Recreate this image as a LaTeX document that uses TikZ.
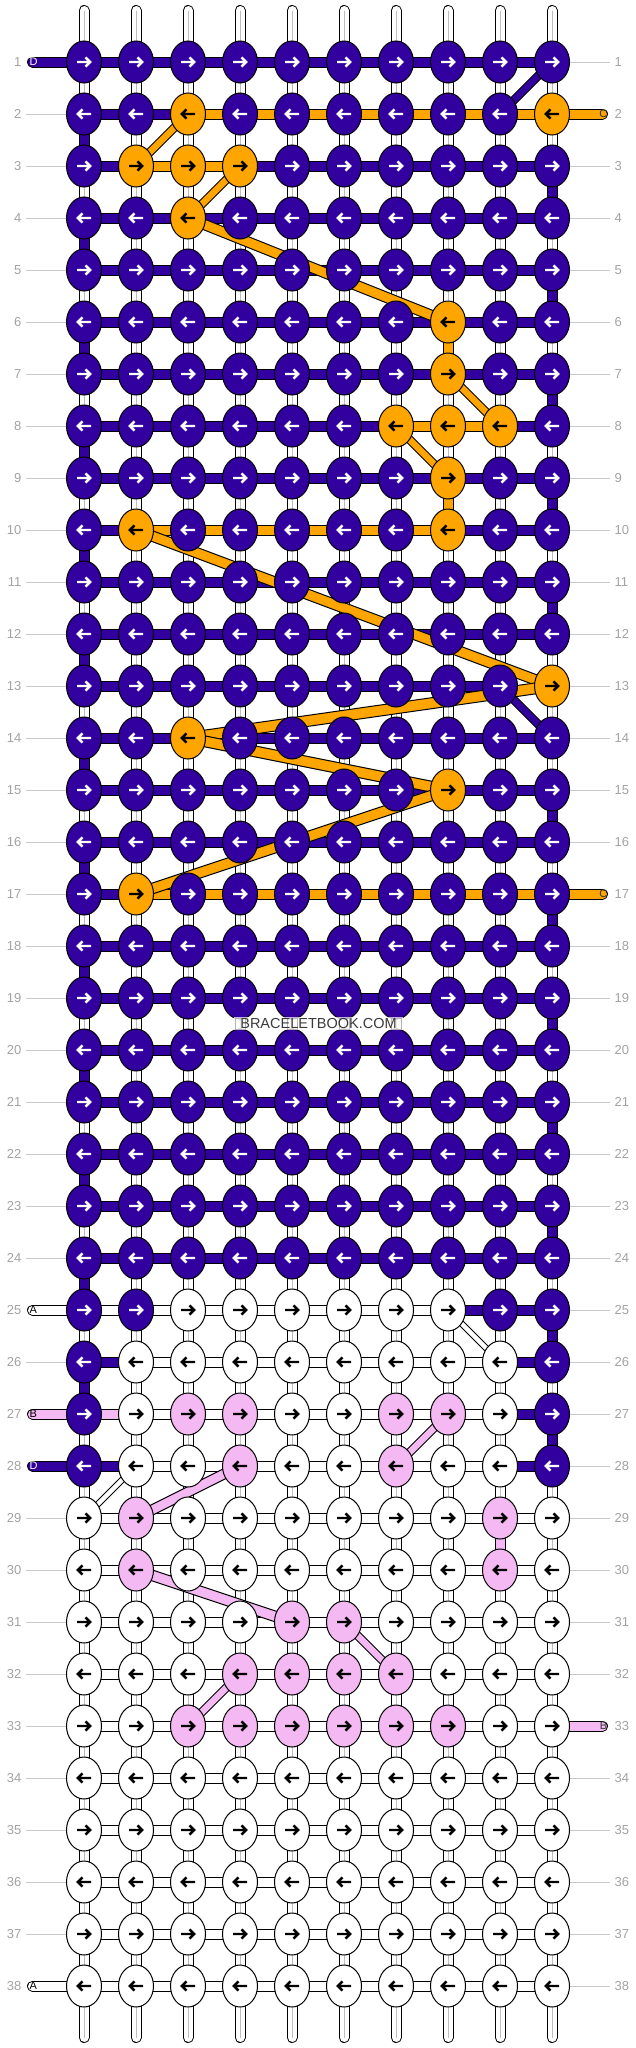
\documentclass[tikz,border=0pt]{standalone}
\usepackage{fontspec}
\setmainfont{Liberation Sans}
\usetikzlibrary{shapes.geometric}
\definecolor{PU}{HTML}{3300A0}
\definecolor{OR}{HTML}{FFA500}
\definecolor{PK}{HTML}{F4B9F2}
\definecolor{WH}{HTML}{FFFFFF}
\definecolor{labgray}{HTML}{A3A3A3}
\definecolor{linegray}{HTML}{C8C8C8}
\definecolor{thrgray}{HTML}{BEBEBE}
\definecolor{wmtext}{HTML}{3A3A3A}
\def\strPU{PU}
\def\strNO{NO}
% knot colour exceptions
\foreach \rr/\cc/\kc in {2/3/OR,2/10/OR,3/2/OR,3/3/OR,3/4/OR,4/3/OR,6/8/OR,7/8/OR,8/7/OR,8/8/OR,8/9/OR,9/8/OR,10/2/OR,10/8/OR,13/10/OR,14/3/OR,15/8/OR,17/2/OR,
 25/1/PU,25/2/PU,25/9/PU,25/10/PU,26/1/PU,26/10/PU,27/1/PU,27/10/PU,27/3/PK,27/4/PK,27/7/PK,27/8/PK,28/1/PU,28/10/PU,28/4/PK,28/7/PK,29/2/PK,29/9/PK,30/2/PK,30/9/PK,31/5/PK,31/6/PK,32/4/PK,32/5/PK,32/6/PK,32/7/PK,33/3/PK,33/4/PK,33/5/PK,33/6/PK,33/7/PK,33/8/PK}
 {\expandafter\xdef\csname kc-\rr-\cc\endcsname{\kc}}
% horizontal band exceptions (row/start column)
\foreach \rr/\cc/\kc in {2/3/OR,2/4/OR,2/5/OR,2/6/OR,2/7/OR,2/8/OR,2/9/OR,3/2/OR,3/3/OR,8/7/OR,8/8/OR,10/2/OR,10/3/OR,10/4/OR,10/5/OR,10/6/OR,10/7/OR,13/9/NO,
 17/2/OR,17/3/OR,17/4/OR,17/5/OR,17/6/OR,17/7/OR,17/8/OR,17/9/OR,25/8/PU,25/9/PU,26/1/PU,26/9/PU,27/1/PK,27/9/PU,28/1/PU,28/9/PU}
 {\expandafter\xdef\csname hb-\rr-\cc\endcsname{\kc}}
\begin{document}
\begin{tikzpicture}[x=1pt,y=-1pt,
 band/.style={draw=black, line width=1pt, double=#1, double distance=9pt},
 knot/.style={ellipse, draw=black, line width=1pt, minimum width=35pt, minimum height=42pt, inner sep=0pt},
 arr/.style={line width=2.4pt, line cap=butt, line join=miter},
 rowlab/.style={text=labgray, font=\fontsize{13}{13}\selectfont, inner sep=0pt},
 gl/.style={draw=linegray, line width=1pt},
 pilltxt/.style={font=\fontsize{11}{11}\selectfont, inner sep=0pt}]
\useasboundingbox (0,0) rectangle (636,2048);
\fill[white] (0,0) rectangle (636,2048);
% grid points
\foreach \rr in {1,...,38}{
  \foreach \cc in {1,...,10}{
    \coordinate (p-\rr-\cc) at ({84+52*(\cc-1)},{62+52*(\rr-1)});
  }
}
% base threads
\foreach \cc in {1,...,10}{
  \coordinate (top-\cc) at ({84+52*(\cc-1)},10.5);
  \coordinate (bot-\cc) at ({84+52*(\cc-1)},2037.5);
  \draw[band=white, line cap=round] (top-\cc) -- (bot-\cc);
  \draw[draw=thrgray, line width=1pt] (top-\cc) -- (bot-\cc);
}
% coloured vertical links
\foreach \rr in {2,4,...,26}{
  \pgfmathtruncatemacro\nr{\rr+1}
  \draw[band=PU] (p-\rr-1) -- (p-\nr-1);
}
\foreach \rr in {3,5,7,9,11,15,17,19,21,23,25,27}{
  \pgfmathtruncatemacro\nr{\rr+1}
  \draw[band=PU] (p-\rr-10) -- (p-\nr-10);
}
\foreach \cc/\rr/\vc in {8/6/OR,8/9/OR,9/29/PK}{
  \pgfmathtruncatemacro\nr{\rr+1}
  \draw[band=\vc] (p-\rr-\cc) -- (p-\nr-\cc);
}
% horizontal bands
\foreach \rr in {1,...,38}{
  \foreach \cc in {1,...,9}{
    \pgfmathtruncatemacro\cn{\cc+1}
    \ifcsname hb-\rr-\cc\endcsname
      \edef\bcol{\csname hb-\rr-\cc\endcsname}%
    \else
      \ifnum\rr<25 \def\bcol{PU}\else\def\bcol{WH}\fi
    \fi
    \ifx\bcol\strNO\else
      \draw[band=\bcol] (p-\rr-\cc) -- (p-\rr-\cn);
    \fi
  }
}
% diagonal links
\foreach \ra/\ca/\rb/\cb/\dc/\hw in {1/10/2/9/PU/5.5pt,13/9/14/10/PU/5.5pt,2/3/3/2/OR/5.5pt,3/4/4/3/OR/5.5pt,4/3/6/8/OR/5.5pt,7/8/8/9/OR/5.5pt,8/7/9/8/OR/5.5pt,10/2/13/10/OR/5.5pt,13/10/14/3/OR/5.5pt,14/3/15/8/OR/5.5pt,15/8/17/2/OR/5.5pt,
 25/8/26/9/WH/4pt,28/2/29/1/WH/4pt,27/8/28/7/PK/5.5pt,28/4/29/2/PK/5.5pt,30/2/31/5/PK/5.5pt,31/6/32/7/PK/5.5pt,32/4/33/3/PK/5.5pt}{
  \draw[line width=1pt, fill=\dc] ([yshift=\hw]p-\ra-\ca) -- ([yshift=\hw]p-\rb-\cb) -- ([yshift=-\hw]p-\rb-\cb) -- ([yshift=-\hw]p-\ra-\ca) -- cycle;
}
% strand ends
\foreach \rr/\pc/\lt/\tc in {1/PU/D/white,25/WH/A/black,27/PK/B/black,28/PU/D/white,38/WH/A/black}{
  \pgfmathsetmacro\yy{62+52*(\rr-1)}
  \coordinate (lend-\rr) at (32.5,\yy);
  \draw[band=\pc, line cap=round] (lend-\rr) -- (p-\rr-1);
  \node[pilltxt, text=\tc, anchor=west] (lt-\rr) at (29.5,\yy) {\lt};
}
\foreach \rr/\pc/\lt in {2/OR/C,17/OR/C,33/PK/B}{
  \pgfmathsetmacro\yy{62+52*(\rr-1)}
  \coordinate (rend-\rr) at (602.5,\yy);
  \draw[band=\pc, line cap=round] (p-\rr-10) -- (rend-\rr);
  \node[pilltxt, text=black!80, anchor=east] (rt-\rr) at (607.5,\yy) {\lt};
}
% knots
\foreach \rr in {1,...,38}{
  \foreach \cc in {1,...,10}{
    \ifcsname kc-\rr-\cc\endcsname
      \edef\kcol{\csname kc-\rr-\cc\endcsname}%
    \else
      \ifnum\rr<25 \def\kcol{PU}\else\def\kcol{WH}\fi
    \fi
    \ifx\kcol\strPU \def\acol{white}\else\def\acol{black}\fi
    \ifodd\rr \def\sg{1}\else\def\sg{-1}\fi
    \node[knot, fill=\kcol] (k-\rr-\cc) at (p-\rr-\cc) {};
    \draw[arr, draw=\acol] (k-\rr-\cc.center) ++({-7*(\sg)},0) -- ++({12.5*(\sg)},0)
      (k-\rr-\cc.center) ++({1.5*(\sg)},-4.6) -- ++({4.6*(\sg)},4.6) -- ++({-4.6*(\sg)},4.6);
  }
}
% row labels and guide lines
\foreach \rr in {1,...,38}{
  \pgfmathsetmacro\yy{62+52*(\rr-1)}
  \node[rowlab, anchor=east] (ln-\rr) at (21.5,\yy) {\rr};
  \node[rowlab, anchor=west] (rn-\rr) at (614.5,\yy) {\rr};
}
\foreach \rr in {2,3,...,24,26,29,30,...,37}{
  \pgfmathsetmacro\yy{62+52*(\rr-1)}
  \coordinate (ll-\rr) at (26,\yy);
  \draw[gl] (ll-\rr) -- (k-\rr-1.west);
}
\foreach \rr in {1,3,4,...,16,18,19,...,32,34,35,...,38}{
  \pgfmathsetmacro\yy{62+52*(\rr-1)}
  \coordinate (rl-\rr) at (610,\yy);
  \draw[gl] (k-\rr-10.east) -- (rl-\rr);
}
% watermark
\node[fill=white, fill opacity=0.7, text opacity=1, text=wmtext, font=\fontsize{14.5}{14.5}\selectfont, inner xsep=6pt, inner ysep=1.5pt] (wm) at (318.5,1023.5) {BRACELETBOOK.COM};
\end{tikzpicture}
\end{document}
